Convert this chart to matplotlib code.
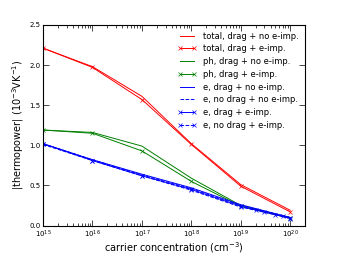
import matplotlib
matplotlib.use("Agg")
import matplotlib.pyplot as plt
import numpy as np

conc = [1e15, 1e16, 1e17, 1e18, 1e19, 1e20]
conc_fine = [1e15, 1e16, 1e17, 1e18, 1e19, 2e19, 3e19, 5e19, 7e19, 1e20]

tot_drag = [2.21, 1.98, 1.61, 1.02, 0.51, 0.19]
tot_drag_imp = [2.21, 1.97, 1.57, 1.01, 0.49, 0.17]
ph_drag = [1.19, 1.16, 0.99, 0.59, 0.25, 0.10]
ph_drag_imp = [1.19, 1.15, 0.93, 0.55, 0.24, 0.09]
e_drag = [1.02, 0.82, 0.64, 0.47, 0.26, 0.10]
e_nodrag = [1.02, 0.82, 0.63, 0.46, 0.25, 0.10]
e_drag_imp = [1.02, 0.81, 0.62, 0.45, 0.24, 0.09]
e_nodrag_imp = [1.01, 0.81, 0.62, 0.44, 0.23, 0.19, 0.165, 0.135, 0.115, 0.085]

fig = plt.figure(figsize=(3.39, 2.54), dpi=100)
ax = fig.add_axes([0.127, 0.112, 0.773, 0.79])

lw = 0.7
ms = 3.5
mew = 0.5
ax.plot(conc, tot_drag, '-', color='r', lw=lw, label='total, drag + no e-imp.')
ax.plot(conc, tot_drag_imp, 'x-', color='r', lw=lw, ms=ms, mew=mew, label='total, drag + e-imp.')
ax.plot(conc, ph_drag, '-', color='g', lw=lw, label='ph, drag + no e-imp.')
ax.plot(conc, ph_drag_imp, 'x-', color='g', lw=lw, ms=ms, mew=mew, label='ph, drag + e-imp.')
ax.plot(conc, e_drag, '-', color='b', lw=lw, label='e, drag + no e-imp.')
ax.plot(conc, e_nodrag, '--', color='b', lw=lw, label='e, no drag + no e-imp.')
ax.plot(conc, e_drag_imp, 'x-', color='b', lw=lw, ms=ms, mew=mew, label='e, drag + e-imp.')
ax.plot(conc_fine, e_nodrag_imp, 'x--', color='b', lw=lw, ms=ms, mew=mew, label='e, no drag + e-imp.')

ax.set_xscale('log')
ax.set_xlim(1e15, 2e20)
ax.set_ylim(0, 2.5)
ax.set_xticks([1e15, 1e16, 1e17, 1e18, 1e19, 1e20])
ax.set_yticks([0.0, 0.5, 1.0, 1.5, 2.0, 2.5])
ax.tick_params(which='both', direction='in', top=True, right=True, labelsize=5, pad=2)
ax.tick_params(which='major', length=4, width=0.5)
ax.tick_params(which='minor', length=2, width=0.5)
for s in ax.spines.values():
    s.set_linewidth(0.8)

ax.set_xlabel('carrier concentration (cm$^{-3}$)', fontsize=7, labelpad=0.5)
ax.set_ylabel('|thermopower| (10$^{-3}$VK$^{-1}$)', fontsize=7, labelpad=2)

ax.legend(loc='upper right', frameon=False, fontsize=6, handlelength=2.2,
          numpoints=2, labelspacing=0.45, borderaxespad=0.4, handletextpad=0.8)

fig.savefig('out.png', dpi=100)
